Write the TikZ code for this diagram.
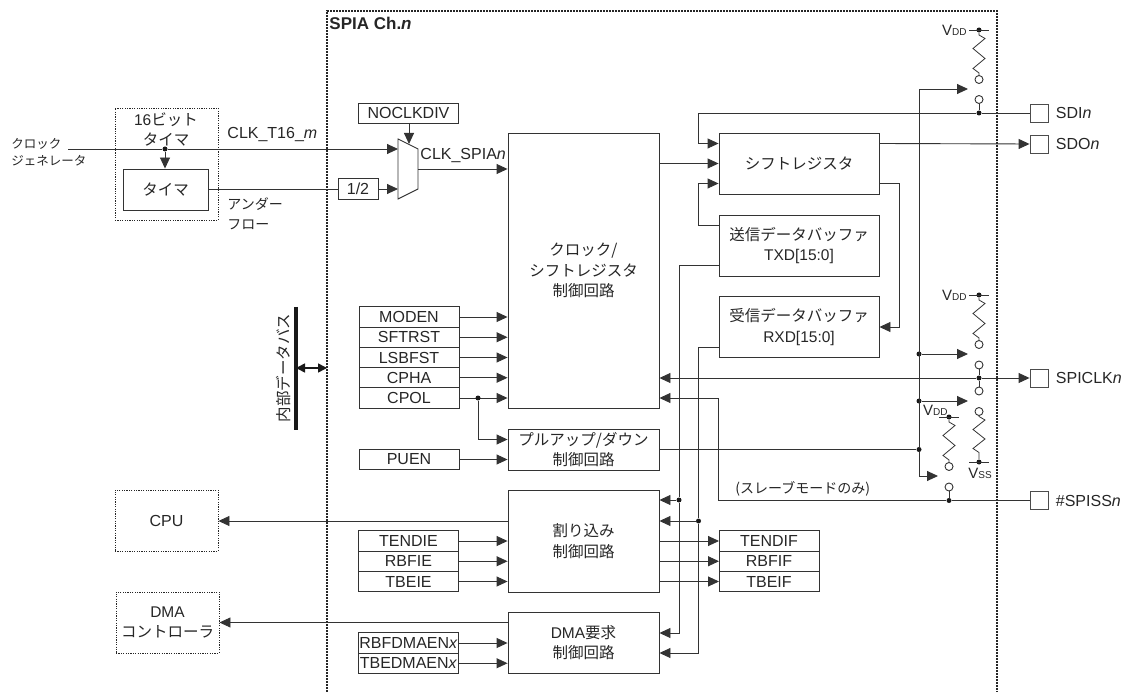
\documentclass[tikz,border=0pt]{standalone}
\usepackage{fontspec}
\setmainfont{Liberation Sans}
\newfontfamily\cjk{Noto Sans CJK JP}
\usetikzlibrary{calc,positioning,arrows.meta}

\begin{document}
\begin{tikzpicture}[
            x=1pt, y=-1pt,
            line width=0.9pt,
            txt/.style={inner sep=0pt, text=black!85, align=center, font=\fontsize{16}{20.5}\selectfont},
            small/.style={txt, font=\cjk\fontsize{14}{20.5}\selectfont},
            block/.style={txt, draw=black!80, font=\cjk\fontsize{15.5}{20.5}\selectfont},
            regbox/.style={txt, draw=black!80, minimum width=100pt, minimum height=20.25pt, outer sep=0pt},
            extbox/.style={txt, draw=black!85, dash pattern=on 1.2pt off 1.2pt, minimum width=103pt, minimum height=61pt},
            pad/.style={draw=black!70, minimum size=18pt, inner sep=0pt},
            dot/.style={circle, fill=black!90, inner sep=0pt, minimum size=5pt},
            sw/.style={circle, draw=black!80, fill=white, inner sep=0pt, minimum size=8pt},
            arr/.style={draw=black!80, -{Triangle[length=11pt,width=10pt]}},
            wire/.style={draw=black!80},
            bound/.style={black!85, line width=1.7pt, dash pattern=on 1.6pt off 1.4pt},
            vdd/.style={txt, font=\fontsize{15}{18}\selectfont},
        ]
    \useasboundingbox (0,0) rectangle (1134,692);

    % channel frame
    \draw[bound] (327,692) -- (327,11) -- (997,11) -- (997,692);
    \node[txt, anchor=west, font=\bfseries\fontsize{17}{18}\selectfont] (title) at (329,23) {SPIA Ch.\textit{n}};

    % clock side
    \node[txt, anchor=west, align=left, font=\cjk\fontsize{12.5}{17}\selectfont] (clkgen) at (11,152) {クロック\\ジェネレータ};
    \node[txt, draw=black!85, dash pattern=on 1.2pt off 1.2pt, minimum width=103pt, minimum height=112pt] (t16) at (166.5,164) {};
    \node[txt, font=\fontsize{15.5}{20}\selectfont] (t16name) at (166,129) {16{\cjk ビット}\\{\cjk タイマ}};
    \node[block, minimum width=85pt, minimum height=41pt] (timer) at (165.5,189.5) {タイマ};
    \node[regbox, minimum width=40pt] (half) at (358,189) {1/2};
    \node[regbox, minimum height=20pt] (noclkdiv) at (408.5,113) {NOCLKDIV};
    \coordinate (muxa) at (398,149);
    \coordinate (muxb) at (398,189);
    \coordinate (muxc) at (409,144);
    \coordinate (muxout) at (418,169);
    \draw[draw=black!80] (398,139) -- (418,149) -- (418,189) -- (398,199) -- cycle;
    \coordinate (clkin) at (68,149);
    \node[dot] (clkdot) at (165,149) {};
    \draw[arr] (clkin) -- (clkdot) -- (muxa);
    \draw[arr] (clkdot) -- (timer.north -| clkdot);
    \draw[wire] (timer.east) -- (timer.east -| half.west);
    \draw[arr] (half.east) -- (muxb);
    \draw[arr] (noclkdiv.south -| muxc) -- (muxc);
    \node[txt, anchor=west] (t16lbl) at (227,135) {CLK\_T16\_\textit{m}};
    \node[small, anchor=west] (ufa) at (227,204) {アンダー};
    \node[small, anchor=west] (ufb) at (227,225) {フロー};
    \node[txt, anchor=west] (spiclbl) at (420,156) {CLK\_SPIA\textit{n}};

    % main blocks
    \node[block, minimum width=151pt, minimum height=275pt] (ctrl) at (583.5,270.5) {クロック/\\シフトレジスタ\\制御回路};
    \node[block, minimum width=151pt, minimum height=41pt] (pull) at (583.5,449.5) {プルアップ/ダウン\\制御回路};
    \node[block, minimum width=151pt, minimum height=102pt] (intr) at (583.5,541) {割り込み\\制御回路};
    \node[block, minimum width=151pt, minimum height=61pt] (dmareq) at (583.5,642.5) {\fontspec{Liberation Sans}DMA{\cjk 要求}\\{\cjk 制御回路}};
    \node[block, minimum width=160pt, minimum height=61pt] (sr) at (799,163.5) {シフトレジスタ};
    \node[block, minimum width=160pt, minimum height=61pt] (txd) at (799,245.5) {送信データバッファ\\\fontspec{Liberation Sans}TXD[15:0]};
    \node[block, minimum width=160pt, minimum height=61pt] (rxd) at (799,327) {受信データバッファ\\\fontspec{Liberation Sans}RXD[15:0]};
    \draw[arr] (muxout) -- (muxout -| ctrl.west);
    \draw[arr] (ctrl.east |- sr.west) -- (sr.west);

    % registers
    \node[regbox] (moden) at (409,317) {MODEN};
    \node[regbox, below=0pt of moden] (sftrst) {SFTRST};
    \node[regbox, below=0pt of sftrst] (lsbfst) {LSBFST};
    \node[regbox, below=0pt of lsbfst] (cpha) {CPHA};
    \node[regbox, below=0pt of cpha] (cpol) {CPOL};
    \node[regbox] (puen) at (409,459.5) {PUEN};
    \node[regbox] (tendie) at (408.5,541) {TENDIE};
    \node[regbox, below=0pt of tendie] (rbfie) {RBFIE};
    \node[regbox, below=0pt of rbfie] (tbeie) {TBEIE};
    \node[regbox] (rbfdma) at (408.5,643) {RBFDMAEN\textit{x}};
    \node[regbox, below=0pt of rbfdma] (tbedma) {TBEDMAEN\textit{x}};
    \node[regbox] (tendif) at (769,541) {TENDIF};
    \node[regbox, below=0pt of tendif] (rbfif) {RBFIF};
    \node[regbox, below=0pt of rbfif] (tbeif) {TBEIF};

    \foreach \reg in {moden,sftrst,lsbfst,cpha,cpol}
        \draw[arr] (\reg.east) -- (\reg.east -| ctrl.west);
    \foreach \reg in {tendie,rbfie,tbeie,rbfdma,tbedma}
        \draw[arr] (\reg.east) -- (\reg.east -| intr.west);
    \foreach \reg in {tendif,rbfif,tbeif}
        \draw[arr] (\reg.west -| intr.east) -- (\reg.west);
    \draw[arr] (puen.east) -- (puen.east -| pull.west);
    \node[dot] (cpoldot) at (478,398) {};
    \draw[arr] (cpoldot) |- ([yshift=10pt]pull.west);

    % internal bus
    \coordinate (bustop) at (296,307);
    \coordinate (busbot) at (296,430);
    \coordinate (busl) at (296,368);
    \coordinate (busr) at (327,368);
    \draw[black!90, line width=4pt] (bustop) -- (busbot);
    \draw[draw=black!90, line width=1.6pt, {Triangle[length=9pt,width=9pt]}-{Triangle[length=9pt,width=9pt]}] (busl) -- (busr);
    \node[txt, rotate=90, font=\cjk\fontsize{15.5}{18}\selectfont] (buslbl) at (284,368) {内部データバス};

    % cpu and dma
    \node[extbox] (cpu) at (166.5,520.5) {CPU};
    \node[extbox, font=\fontsize{15.5}{20}\selectfont] (dmac) at (167.5,622.5) {DMA\\{\cjk コントローラ}};
    \draw[arr] ([yshift=20pt]intr.west) -- ([yshift=20pt]intr.west -| cpu.east);
    \draw[arr] ([yshift=20pt]dmareq.west) -- ([yshift=20pt]dmareq.west -| dmac.east);

    % pads
    \node[pad] (sdi) at (1039,113) {};
    \node[pad] (sdo) at (1039,144) {};
    \node[pad] (spiclk) at (1039,378) {};
    \node[pad] (spiss) at (1039,500.5) {};
    \node[txt, anchor=west, right=7pt of sdi] (sdilbl) {SDI\textit{n}};
    \node[txt, anchor=west, right=7pt of sdo] (sdolbl) {SDO\textit{n}};
    \node[txt, anchor=west, right=7pt of spiclk] (spiclklbl) {SPICLK\textit{n}};
    \node[txt, anchor=west, right=7pt of spiss] (spisslbl) {\#SPISS\textit{n}};

    % data paths
    \node[dot] (sdidot) at (979,113) {};
    \draw[wire] (sdi.west) -- (sdidot);
    \draw[arr] (sdidot) -- (698,113) |- ([yshift=20pt]sr.west);
    \draw[arr] ([yshift=20pt]sr.east) -- (sdo.west);
    \draw[arr] ([yshift=-20pt]sr.east) -- ++(20,0) |- (rxd.east);
    \draw[arr] ([yshift=20pt]txd.west) -- ++(-20,0) |- ([yshift=-20pt]sr.west);
    \node[dot] (clkdot2) at (979,378) {};
    \draw[arr] (clkdot2) -- (clkdot2 -| ctrl.east);
    \draw[arr] (clkdot2) -- (spiclk.west);
    \node[dot] (ssdot) at (949,500.5) {};
    \draw[wire] (spiss.west) -- (ssdot);
    \draw[arr] (ssdot) -- (718,500.5) |- (cpoldot -| ctrl.east);
    \node[small, anchor=west] (slave) at (735,489) {(スレーブモードのみ)};

    % status lines
    \node[dot] (txddot) at (679,500) {};
    \node[dot] (rxddot) at (698.5,521) {};
    \draw[wire] ([yshift=-20pt]txd.west) -- (679,265.5) -- (txddot);
    \draw[wire] ([yshift=-20pt]rxd.west) -- (698.5,347) -- (rxddot);
    \draw[arr] (txddot) -- (txddot -| intr.east);
    \draw[arr] (rxddot) -- (rxddot -| intr.east);
    \draw[arr] (txddot) -- (679,633) -- (dmareq.east |- 0,633);
    \draw[arr] (rxddot) -- (698.5,653) -- (dmareq.east |- 0,653);

    % pull-up switches
    \node[dot] (vdda) at (979,30) {};
    \node[dot] (vddb) at (979,295) {};
    \node[dot] (vddc) at (949,417) {};
    \node[dot] (vssa) at (979,462) {};
    \node[sw] (swat) at (979,79.5) {};
    \node[sw] (swab) at (979,99.5) {};
    \node[sw] (swbt) at (979,344.5) {};
    \node[sw] (swbb) at (979,365) {};
    \node[sw] (swct) at (979,391) {};
    \node[sw] (swcb) at (979,411.5) {};
    \node[sw] (swdt) at (949,466.5) {};
    \node[sw] (swdb) at (949,487) {};
    \foreach \rail/\rsw in {vdda/swat,vddb/swbt,vddc/swdt}
        \draw[wire, line width=0.8pt] (\rail) -- ++(0,5) -- ++(6,3.5) -- ++(-12,10) -- ++(12,10) -- ++(-12,10) -- ++(6,4.5) -- (\rsw);
    \draw[wire, line width=0.8pt] (swcb) -- ++(0,5) -- ++(6,3.5) -- ++(-12,9.5) -- ++(12,9.5) -- ++(-12,9.5) -- ++(6,4) -- (vssa);
    \draw[wire] (swab) -- (sdidot);
    \draw[wire] (swbb) -- (clkdot2) -- (swct);
    \draw[wire] (swdb) -- (ssdot);
    \foreach \rail in {vdda,vddb,vddc,vssa}
        \draw[wire] ([xshift=-10pt]\rail.center) -- ([xshift=10pt]\rail.center);
    \node[vdd, anchor=east] (vddalbl) at (967,30) {V{\fontsize{10}{12}\selectfont DD}};
    \node[vdd, anchor=east] (vddblbl) at (967,295) {V{\fontsize{10}{12}\selectfont DD}};
    \node[vdd, anchor=east] (vddclbl) at (948,410.5) {V{\fontsize{10}{12}\selectfont DD}};
    \node[vdd] (vsslbl) at (980,473.5) {V{\fontsize{10}{12}\selectfont SS}};

    % pull control
    \node[dot] (pulldot) at (919,449.5) {};
    \node[dot] (swbdot) at (919,354) {};
    \node[dot] (swcdot) at (919,401) {};
    \coordinate (swatip) at (968,89);
    \coordinate (swbtip) at (968,354);
    \coordinate (swctip) at (968,401);
    \coordinate (swdtip) at (938,476);
    \draw[wire] (pull.east) -- (pulldot);
    \draw[arr] (pulldot) -- (919,89) -- (swatip);
    \draw[arr] (pulldot) |- (swdtip);
    \draw[arr] (swbdot) -- (swbtip);
    \draw[arr] (swcdot) -- (swctip);

\end{tikzpicture}
\end{document}
